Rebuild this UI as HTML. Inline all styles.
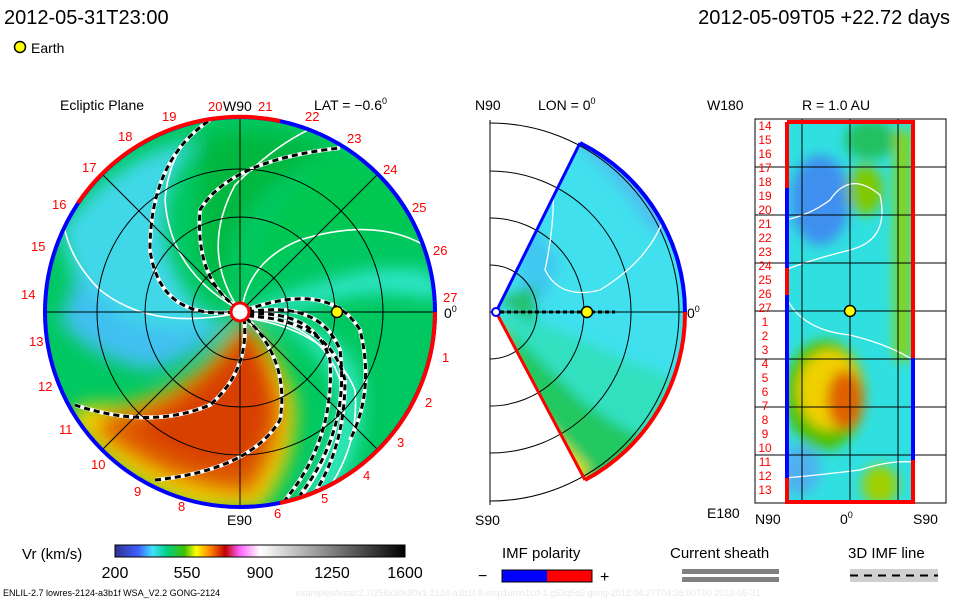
<!DOCTYPE html>
<html><head><meta charset="utf-8"><style>
body{margin:0;background:#fff;}
svg{display:block;font-family:"Liberation Sans","DejaVu Sans",sans-serif;}
</style></head><body>
<svg width="960" height="600" viewBox="0 0 960 600" xmlns="http://www.w3.org/2000/svg">
<defs>
<filter id="bl" x="-20%" y="-20%" width="140%" height="140%"><feGaussianBlur stdDeviation="9"/></filter>
<filter id="bl2" x="-20%" y="-20%" width="140%" height="140%"><feGaussianBlur stdDeviation="6"/></filter>
<clipPath id="disk"><circle cx="240" cy="312" r="195"/></clipPath>
<clipPath id="wedge"><path d="M496,312 L580,143 A189,189 0 0 1 585,480 Z"/></clipPath>
<clipPath id="rect"><rect x="785" y="122" width="128" height="380"/></clipPath>
<linearGradient id="cb" x1="0" x2="1">
<stop offset="0" stop-color="#303090"/><stop offset="0.08" stop-color="#4060ff"/><stop offset="0.13" stop-color="#40e0ff"/><stop offset="0.18" stop-color="#00d080"/><stop offset="0.24" stop-color="#40c000"/><stop offset="0.28" stop-color="#ffff00"/><stop offset="0.33" stop-color="#ff8000"/><stop offset="0.38" stop-color="#c00000"/><stop offset="0.43" stop-color="#ff60ff"/><stop offset="0.5" stop-color="#ffffff"/><stop offset="1" stop-color="#000000"/>
</linearGradient>
</defs>

<text x="4" y="24" font-size="20" fill="#000">2012-05-31T23:00</text>
<text x="950" y="24" font-size="20" fill="#000" text-anchor="end">2012-05-09T05 +22.72 days</text>
<circle cx="20" cy="47" r="5.5" fill="#ffff00" stroke="#000" stroke-width="1.5"/>
<text x="31" y="53" font-size="14">Earth</text>

<!-- Left disk -->
<g clip-path="url(#disk)">
<rect x="40" y="110" width="400" height="400" fill="#00c860"/>
<g filter="url(#bl)">
<path d="M60,230 Q120,150 200,140 Q150,190 170,260 Q200,330 235,318 Q170,380 90,330 Z" fill="#40d8e8"/>
<path d="M80,270 Q110,330 180,330 Q220,330 232,315 Q200,360 150,370 Q90,360 60,320 Z" fill="#40c0f0"/>
<path d="M240,315 Q290,290 350,275 Q420,262 440,280 L440,300 Q380,285 330,300 Q270,315 245,318 Z" fill="#30e8d0"/>
<path d="M250,318 Q320,330 340,400 Q330,460 300,500 L330,500 Q370,440 360,380 Q340,320 250,318 Z" fill="#30e8c0"/>
<path d="M242,320 Q275,340 295,400 Q300,460 260,510 L200,510 Q110,480 70,420 Q70,400 120,405 Q190,390 225,340 Z" fill="#f0d000"/>
<path d="M244,322 Q268,345 282,400 Q285,450 250,495 Q170,490 100,435 Q90,420 120,412 Q190,395 235,335 Z" fill="#e06000"/>
<path d="M244,326 Q262,350 270,400 Q268,440 245,470 Q180,470 130,430 Q190,405 238,340 Z" fill="#d84000"/>
<path d="M200,140 Q270,120 330,150 Q260,180 230,240 Q215,290 238,312 Q200,290 200,240 Z" fill="#00b840"/>
<path d="M330,150 Q400,170 430,240 Q360,220 300,240 Q250,270 240,310 Q260,220 330,150 Z" fill="#00c850"/>
</g>
</g>
<g fill="none" stroke="#fff" stroke-width="1.6" clip-path="url(#disk)">
<path d="M236,308 Q170,270 165,200 Q170,140 215,118"/>
<path d="M238,308 Q200,250 235,185 Q280,140 320,125"/>
<path d="M242,308 Q250,260 300,240 Q380,215 432,250"/>
<path d="M234,314 Q150,330 100,290 Q60,250 62,200"/>
<path d="M246,318 Q320,320 340,380 Q345,440 300,500"/>
<path d="M246,318 Q330,330 355,390 Q360,450 320,500"/>
</g>
<g fill="none" clip-path="url(#disk)">
<g stroke="#fff" stroke-width="4">
<path d="M234,312 Q160,320 150,250 Q150,160 210,120"/>
<path d="M238,308 Q195,280 200,210 Q230,160 340,148"/>
<path d="M244,318 Q250,370 210,405 Q150,430 75,405"/>
<path d="M246,318 Q290,360 280,420 Q250,470 155,480"/>
<path d="M246,310 Q330,280 360,330 Q375,390 350,440"/>
<path d="M248,312 Q320,300 340,350 Q350,430 300,495"/>
<path d="M248,314 Q315,310 330,360 Q335,440 285,500"/>
<path d="M248,316 Q330,320 345,380 Q345,450 310,500"/>
</g>
<g stroke="#000" stroke-width="3" stroke-dasharray="6 4">
<path d="M234,312 Q160,320 150,250 Q150,160 210,120"/>
<path d="M238,308 Q195,280 200,210 Q230,160 340,148"/>
<path d="M244,318 Q250,370 210,405 Q150,430 75,405"/>
<path d="M246,318 Q290,360 280,420 Q250,470 155,480"/>
<path d="M246,310 Q330,280 360,330 Q375,390 350,440"/>
<path d="M248,312 Q320,300 340,350 Q350,430 300,495"/>
<path d="M248,314 Q315,310 330,360 Q335,440 285,500"/>
<path d="M248,316 Q330,320 345,380 Q345,450 310,500"/>
</g>
</g>
<g fill="none" stroke="#000" stroke-width="1">
<circle cx="240" cy="312" r="48"/><circle cx="240" cy="312" r="95"/><circle cx="240" cy="312" r="143"/>
<line x1="45" y1="312" x2="435" y2="312"/><line x1="240" y1="117" x2="240" y2="507"/>
<line x1="102" y1="174" x2="378" y2="450"/><line x1="378" y1="174" x2="102" y2="450"/>
</g>
<g fill="none" stroke-width="4">
<circle cx="240" cy="312" r="195" stroke="#0000ff"/>
<path d="M78,203 A195,195 0 0 1 280,121" stroke="#ff0000"/>
<path d="M435,312 A195,195 0 0 1 280,503" stroke="#ff0000"/>
</g>
<circle cx="240" cy="312" r="9" fill="#fff" stroke="#ff0000" stroke-width="3"/>
<circle cx="337" cy="312" r="5.5" fill="#ffff00" stroke="#000" stroke-width="1.5"/>
<g font-size="13" fill="#ff0000">
<text x="208" y="111">20</text><text x="258" y="111">21</text><text x="305" y="121">22</text><text x="347" y="143">23</text><text x="383" y="174">24</text><text x="412" y="212">25</text><text x="433" y="255">26</text><text x="443" y="302">27</text>
<text x="442" y="362">1</text><text x="425" y="407">2</text><text x="397" y="447">3</text><text x="363" y="480">4</text><text x="321" y="503">5</text><text x="274" y="518">6</text>
<text x="178" y="511">8</text><text x="134" y="496">9</text><text x="91" y="469">10</text><text x="59" y="434">11</text><text x="38" y="391">12</text><text x="29" y="346">13</text><text x="21" y="299">14</text><text x="31" y="251">15</text><text x="52" y="209">16</text><text x="82" y="172">17</text><text x="118" y="141">18</text><text x="162" y="121">19</text>
</g>
<text x="60" y="110" font-size="14">Ecliptic Plane</text>
<text x="223" y="111" font-size="14">W90</text>
<text x="314" y="110" font-size="14">LAT = −0.6<tspan font-size="9" dy="-6">0</tspan></text>
<text x="444" y="318" font-size="14">0<tspan font-size="9" dy="-6">0</tspan></text>
<text x="227" y="525" font-size="14">E90</text>

<!-- Middle wedge -->
<line x1="490" y1="120" x2="490" y2="505" stroke="#000"/>
<g clip-path="url(#wedge)">
<rect x="490" y="120" width="200" height="380" fill="#40e0ee"/>
<g filter="url(#bl2)">
<path d="M570,140 Q620,180 650,230 L690,240 L690,120 Z" fill="#50c0f0"/>
<path d="M520,200 Q540,240 560,260 L545,300 L520,290 Z" fill="#40c8f0"/>
<path d="M496,312 L560,330 Q620,360 680,380 L690,500 L520,500 Z" fill="#30e0c0"/>
<path d="M496,320 Q540,360 580,400 Q620,430 650,440 L640,500 L520,500 Z" fill="#20c860"/>
<path d="M496,322 Q515,370 535,410 Q560,440 590,470 L560,500 L520,500 Z" fill="#e0e000"/>
<path d="M500,325 Q515,375 530,405 L540,440 L510,440 Z" fill="#f0a000"/>
<path d="M496,300 L535,285 L535,325 Z" fill="#20c070"/>
</g>
</g>
<g fill="none" stroke="#000">
<path d="M490,265 A47,47 0 0 1 490,359"/>
<path d="M490,218 A94,94 0 0 1 490,406"/>
<path d="M490,171 A141,141 0 0 1 490,453"/>
<path d="M490,123 A189,189 0 0 1 490,501"/>
<line x1="490" y1="312" x2="685" y2="312"/>
</g>
<path d="M548,150 Q560,200 545,270 Q560,300 600,290 Q650,260 665,215" fill="none" stroke="#fff" stroke-width="1.3" clip-path="url(#wedge)"/>
<path d="M580,143 A189,189 0 0 1 685,312" fill="none" stroke="#0000ff" stroke-width="4"/>
<path d="M685,312 A189,189 0 0 1 585,480" fill="none" stroke="#ff0000" stroke-width="4"/>
<line x1="496" y1="312" x2="580" y2="143" stroke="#0000ff" stroke-width="3"/>
<line x1="496" y1="312" x2="585" y2="480" stroke="#ff0000" stroke-width="3"/>
<circle cx="496" cy="312" r="4" fill="#fff" stroke="#0000ff" stroke-width="2"/>
<line x1="500" y1="312" x2="615" y2="312" stroke="#000" stroke-width="3" stroke-dasharray="4 3"/>
<circle cx="587" cy="312" r="5.5" fill="#ffff00" stroke="#000" stroke-width="1.5"/>
<text x="475" y="110" font-size="14">N90</text>
<text x="538" y="110" font-size="14">LON = 0<tspan font-size="9" dy="-6">0</tspan></text>
<text x="687" y="318" font-size="14">0<tspan font-size="9" dy="-6">0</tspan></text>
<text x="475" y="525" font-size="14">S90</text>

<!-- Right panel -->
<g clip-path="url(#rect)">
<rect x="785" y="122" width="128" height="380" fill="#30e0e0"/>
<g filter="url(#bl2)">
<ellipse cx="820" cy="200" rx="30" ry="45" fill="#4090f0"/>
<ellipse cx="865" cy="190" rx="18" ry="25" fill="#80c800"/>
<rect x="895" y="130" width="15" height="230" fill="#90d000"/>
<ellipse cx="870" cy="140" rx="25" ry="20" fill="#20c060"/>
<ellipse cx="825" cy="395" rx="40" ry="55" fill="#50c000"/>
<ellipse cx="830" cy="390" rx="32" ry="40" fill="#f0d000"/>
<ellipse cx="845" cy="400" rx="18" ry="30" fill="#e06000"/>
<ellipse cx="880" cy="485" rx="18" ry="20" fill="#a0d000"/>
<ellipse cx="800" cy="470" rx="20" ry="25" fill="#50b0f0"/>
</g>
<path d="M785,220 Q810,215 830,200 Q850,170 880,195 Q890,240 850,250 Q810,260 785,270" fill="none" stroke="#fff" stroke-width="1.3"/>
<path d="M785,295 Q800,330 850,335 Q890,345 913,360" fill="none" stroke="#fff" stroke-width="1.3"/>
<path d="M785,478 Q820,475 860,470 Q890,460 913,462" fill="none" stroke="#fff" stroke-width="1.3"/>
</g>
<rect x="755" y="119" width="191" height="384" fill="none" stroke="#000"/>
<g stroke="#000">
<line x1="802" y1="119" x2="802" y2="503"/><line x1="850" y1="119" x2="850" y2="503"/><line x1="898" y1="119" x2="898" y2="503"/>
<line x1="755" y1="167" x2="946" y2="167"/><line x1="755" y1="215" x2="946" y2="215"/><line x1="755" y1="263" x2="946" y2="263"/><line x1="755" y1="311" x2="946" y2="311"/><line x1="755" y1="359" x2="946" y2="359"/><line x1="755" y1="407" x2="946" y2="407"/><line x1="755" y1="455" x2="946" y2="455"/>
</g>
<path d="M787,122 L913,122 L913,358" fill="none" stroke="#ff0000" stroke-width="4"/>
<path d="M913,358 L913,460" stroke="#0000ff" stroke-width="4"/>
<path d="M913,460 L913,502 L787,502 L787,478" fill="none" stroke="#ff0000" stroke-width="4"/>
<path d="M787,478 L787,295" stroke="#0000ff" stroke-width="4"/>
<path d="M787,295 L787,268" stroke="#ff0000" stroke-width="4"/>
<path d="M787,268 L787,188" stroke="#0000ff" stroke-width="4"/>
<path d="M787,188 L787,122" stroke="#ff0000" stroke-width="4"/>
<circle cx="850" cy="311" r="5.5" fill="#ffff00" stroke="#000" stroke-width="1.5"/>
<g font-size="12" fill="#ff0000" text-anchor="middle" transform="translate(0,0)">
<text x="765" y="130">14</text><text x="765" y="144">15</text><text x="765" y="158">16</text><text x="765" y="172">17</text><text x="765" y="186">18</text><text x="765" y="200">19</text><text x="765" y="214">20</text><text x="765" y="228">21</text><text x="765" y="242">22</text><text x="765" y="256">23</text><text x="765" y="270">24</text><text x="765" y="284">25</text><text x="765" y="298">26</text><text x="765" y="312">27</text><text x="765" y="326">1</text><text x="765" y="340">2</text><text x="765" y="354">3</text><text x="765" y="368">4</text><text x="765" y="382">5</text><text x="765" y="396">6</text><text x="765" y="410">7</text><text x="765" y="424">8</text><text x="765" y="438">9</text><text x="765" y="452">10</text><text x="765" y="466">11</text><text x="765" y="480">12</text><text x="765" y="494">13</text>
</g>
<text x="707" y="110" font-size="14">W180</text>
<text x="802" y="110" font-size="14">R = 1.0 AU</text>
<text x="707" y="518" font-size="14">E180</text>
<text x="755" y="524" font-size="14">N90</text>
<text x="840" y="524" font-size="14">0<tspan font-size="9" dy="-6">0</tspan></text>
<text x="913" y="524" font-size="14">S90</text>

<!-- Bottom legend -->
<text x="22" y="559" font-size="15">Vr (km/s)</text>
<rect x="115" y="545" width="290" height="12" fill="url(#cb)" stroke="#000"/>
<g font-size="16" text-anchor="middle"><text x="115" y="578">200</text><text x="187" y="578">550</text><text x="260" y="578">900</text><text x="332" y="578">1250</text><text x="405" y="578">1600</text></g>
<text x="502" y="558" font-size="15">IMF polarity</text>
<text x="478" y="581" font-size="16">−</text>
<rect x="502" y="570" width="45" height="12" fill="#0000ff"/><rect x="547" y="570" width="45" height="12" fill="#ff0000"/><rect x="502" y="570" width="90" height="12" fill="none" stroke="#000"/>
<text x="600" y="582" font-size="16">+</text>
<text x="670" y="558" font-size="15">Current sheath</text>
<rect x="682" y="569" width="97" height="5" fill="#808080"/><rect x="682" y="577" width="97" height="5" fill="#808080"/>
<text x="848" y="558" font-size="15">3D IMF line</text>
<rect x="850" y="569" width="88" height="13" fill="#d0d0d0"/>
<line x1="850" y1="575.5" x2="938" y2="575.5" stroke="#000" stroke-width="2" stroke-dasharray="8 6"/>
<text x="3" y="596" font-size="9">ENLIL-2.7 lowres-2124-a3b1f WSA_V2.2 GONG-2124</text>
<text x="296" y="596" font-size="9" fill="#e8e8e8">examples/wsa/r2.7/256x30x90x1.2124-a3b1f.8-mcp1umn1cd-1.g53q5d2.gong-2012:04:27T04:38:00T00   2012-05-31</text>
</svg>
</body></html>
